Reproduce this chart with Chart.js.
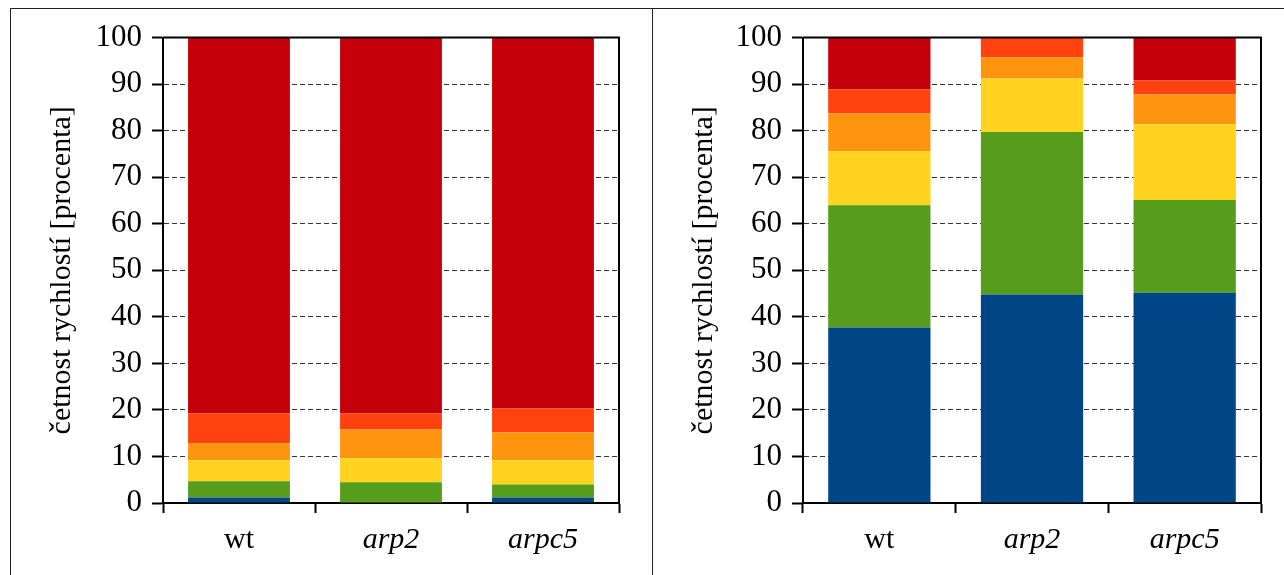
<!DOCTYPE html>
<html>
<head>
<meta charset="utf-8">
<script src="https://cdn.jsdelivr.net/npm/chart.js@4"></script>
<style>
  body { margin: 0; background: #fff; width: 1284px; height: 575px; overflow: hidden; position: relative; }
  .panel { position: absolute; box-sizing: border-box; }
  #p1 { left: 10px; top: 8px; width: 643px; height: 600px; border: 1px solid #222; }
  #p2 { left: 652px; top: 8px; width: 700px; height: 600px; border-top: 1px solid #222; border-left: 1px solid #222; }
  canvas { position: absolute; }
  #c1 { left: 11px; top: 9px; }
  #c2 { left: 653px; top: 9px; }
</style>
</head>
<body>
<div class="panel" id="p1"></div>
<div class="panel" id="p2"></div>
<canvas id="c1" width="640" height="566"></canvas>
<canvas id="c2" width="631" height="566"></canvas>
<script>
// categories and tick labels
const categories = ['wt', 'arp2', 'arpc5'];
const italicLabels = [false, true, true];
const yTickValues = [0, 10, 20, 30, 40, 50, 60, 70, 80, 90, 100];
const yTitle = 'četnost rychlostí [procenta]';

// series colours, bottom to top
const seriesColors = ['#004586', '#579d1c', '#ffd320', '#ff950e', '#ff420e', '#c5000b'];

// left chart, bottom to top
const left1 = [1.2, 0, 1.2];
const left2 = [3.5, 4.45, 2.8];
const left3 = [4.5, 5.15, 5.2];
const left4 = [3.6, 6.2, 6.0];
const left5 = [6.5, 3.5, 5.1];
const left6 = [80.7, 80.7, 79.7];

// right chart, bottom to top
const right1 = [37.7, 44.8, 45.2];
const right2 = [26.3, 34.9, 19.9];
const right3 = [11.6, 11.5, 16.3];
const right4 = [8.1, 4.5, 6.4];
const right5 = [5.2, 4.3, 3.0];
const right6 = [11.1, 0, 9.2];

const fontFamily = '"Liberation Serif", "DejaVu Serif", serif';

// draws top and right edges of the plot box
const boxPlugin = {
  id: 'box',
  afterDatasetsDraw(chart) {
    const a = chart.chartArea;
    const ctx = chart.ctx;
    ctx.save();
    ctx.strokeStyle = '#000';
    ctx.lineWidth = 2;
    ctx.beginPath();
    ctx.moveTo(a.left, a.top);
    ctx.lineTo(a.right, a.top);
    ctx.lineTo(a.right, a.bottom);
    ctx.stroke();
    ctx.restore();
  }
};

function makeChart(id, series, axisWidth, padRight) {
  const datasets = series.map((data, i) => ({
    label: 'třída ' + (i + 1),
    data: data,
    backgroundColor: seriesColors[i],
    borderWidth: 0,
    categoryPercentage: 1,
    barPercentage: 0.67
  }));

  return new Chart(document.getElementById(id).getContext('2d'), {
    type: 'bar',
    data: { labels: categories, datasets: datasets },
    plugins: [boxPlugin],
    options: {
      responsive: false,
      animation: false,
      layout: { padding: { left: 0, right: padRight, top: 27, bottom: 0 } },
      plugins: { legend: { display: false }, tooltip: { enabled: false } },
      scales: {
        x: {
          stacked: true,
          afterFit: s => { s.height = 72; },
          border: { display: true, color: '#000', width: 2 },
          grid: {
            offset: true,
            drawOnChartArea: false,
            drawTicks: true,
            tickLength: 10,
            tickColor: '#000',
            tickWidth: 2
          },
          ticks: {
            color: '#000',
            padding: 9,
            font: ctx => ({ family: fontFamily, size: 30, style: italicLabels[ctx.index] ? 'italic' : 'normal' })
          }
        },
        y: {
          stacked: true,
          min: 0,
          max: 100,
          afterFit: s => { s.width = axisWidth; },
          afterBuildTicks: s => { s.ticks = yTickValues.map(v => ({ value: v })); },
          border: { display: true, color: '#000', width: 2, dash: [5, 3] },
          grid: {
            color: '#333',
            lineWidth: 1,
            drawTicks: true,
            tickLength: 11,
            tickColor: '#000',
            tickWidth: 2,
            tickBorderDash: []
          },
          ticks: {
            color: '#000',
            padding: 10,
            font: { family: fontFamily, size: 31 }
          },
          title: {
            display: true,
            text: yTitle,
            color: '#000',
            padding: { top: 33, bottom: 0 },
            font: { family: fontFamily, size: 30 }
          }
        }
      }
    }
  });
}

makeChart('c1', [left1, left2, left3, left4, left5, left6], 152, 32);
makeChart('c2', [right1, right2, right3, right4, right5, right6], 150, 23);
</script>
</body>
</html>
